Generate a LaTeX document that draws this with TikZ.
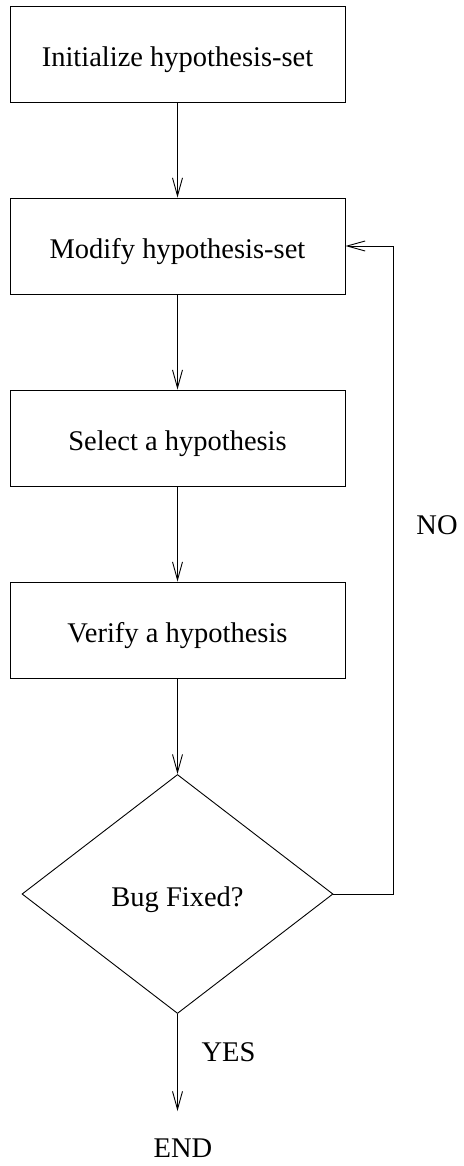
\documentclass[tikz,border=0pt]{standalone}
\usepackage{fontspec}
\setmainfont{Liberation Serif}
\usetikzlibrary{arrows.meta,shapes.geometric}
\tikzset{
  flowbox/.style={draw, line width=0.9pt, minimum width=335pt, minimum height=96pt, inner sep=0pt,
    text height=45pt, text depth=20pt, font=\fontsize{28.5}{34}\selectfont},
  decision/.style={draw, diamond, line width=0.9pt, minimum width=311pt, minimum height=239pt, inner sep=0pt,
    aspect=1.3, text height=45pt, text depth=20pt, font=\fontsize{28.5}{34}\selectfont},
  lbl/.style={anchor=base, inner sep=0pt, font=\fontsize{28.5}{34}\selectfont},
  flow/.style={line width=0.9pt, -{Straight Barb[length=18pt,width=10pt,line width=0.9pt]}},
  plain/.style={line width=0.9pt}
}
\begin{document}
\begin{tikzpicture}[x=1pt,y=-1pt]
\useasboundingbox (0,0) rectangle (463,1166);
\node[flowbox] (init) at (177.5,54) {Initialize hypothesis-set};
\node[flowbox] (modify) at (177.5,246) {Modify hypothesis-set};
\node[flowbox] (select) at (177.5,438) {Select a hypothesis};
\node[flowbox] (verify) at (177.5,630) {Verify a hypothesis};
\node[decision] (fixed) at (177.5,894) {Bug Fixed?};
\coordinate (loop) at (393,894);
\coordinate (endpt) at (177.5,1111);
\node[lbl] (no) at (437,534) {NO};
\node[lbl] (yes) at (228.5,1061.5) {YES};
\node[lbl] (end) at (183,1157.5) {END};
\draw[flow] (init.south) -- (modify.north);
\draw[flow] (modify.south) -- (select.north);
\draw[flow] (select.south) -- (verify.north);
\draw[flow] (verify.south) -- (fixed.north);
\draw[flow] (fixed.east) -- (loop) |- (modify.east);
\draw[flow] (fixed.south) -- (endpt);
\end{tikzpicture}
\end{document}
